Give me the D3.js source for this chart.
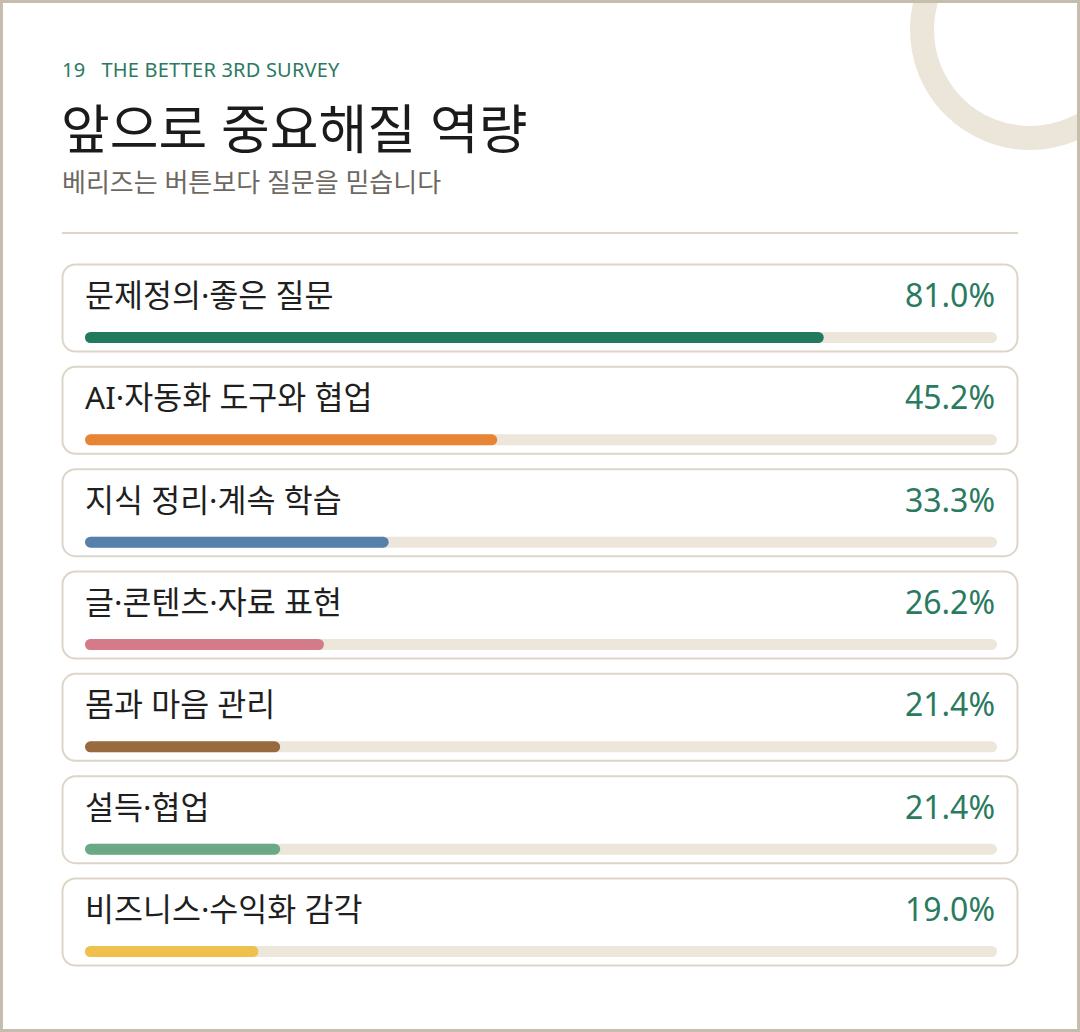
<!DOCTYPE html>
<html>
<head>
<meta charset="utf-8">
<script src="https://cdn.jsdelivr.net/npm/d3@7"></script>
<style>
  html, body { margin: 0; padding: 0; background: #fff; }
  svg { display: block; }
  text { font-family: "Noto Sans", "Noto Sans CJK KR", sans-serif; }
</style>
</head>
<body>
<script>
// survey results
const categories = [
  "문제정의·좋은 질문",
  "AI·자동화 도구와 협업",
  "지식 정리·계속 학습",
  "글·콘텐츠·자료 표현",
  "몸과 마음 관리",
  "설득·협업",
  "비즈니스·수익화 감각"
];
const values = [81.0, 45.2, 33.3, 26.2, 21.4, 21.4, 19.0];
const barColors = ["#217a5e", "#e88534", "#5580ab", "#d57a88", "#986a3e", "#6aa886", "#f0c04c"];

const kicker = "19   THE BETTER 3RD SURVEY";
const title = "앞으로 중요해질 역량";
const subtitle = "베리즈는 버튼보다 질문을 믿습니다";

const drawViz = () => {
  const width = 1080;
  const height = 1032;
  const margin = {left: 62, right: 62};

  d3.select('body').selectAll('svg').remove();

  const svg = d3.select('body')
    .append('svg')
    .attr('width', width)
    .attr('height', height);

  // deco ring, clipped by frame
  svg.append('defs').append('clipPath').attr('id', 'frame')
    .append('rect').attr('x', 0).attr('y', 0).attr('width', width).attr('height', height);

  svg.append('circle')
    .attr('clip-path', 'url(#frame)')
    .attr('cx', 1030).attr('cy', 30).attr('r', 108)
    .attr('fill', 'none')
    .attr('stroke', '#ece5d9')
    .attr('stroke-width', 24);

  // outer frame
  svg.append('rect')
    .attr('x', 1.5).attr('y', 1.5)
    .attr('width', width - 3).attr('height', height - 3)
    .attr('fill', 'none')
    .attr('stroke', '#c7bdac')
    .attr('stroke-width', 3);

  // header
  svg.append('text')
    .attr('x', margin.left).attr('y', 77)
    .attr('fill', '#2a7a5f')
    .style('font-size', '20px')
    .style('letter-spacing', '0.2px')
    .style('white-space', 'pre')
    .attr('xml:space', 'preserve')
    .text(kicker);

  svg.append('text')
    .attr('x', margin.left - 1).attr('y', 149)
    .attr('fill', '#1b1b1b')
    .style('font-size', '53px')
    .style('font-weight', 400)
    .text(title);

  svg.append('text')
    .attr('x', margin.left).attr('y', 192)
    .attr('fill', '#6e6862')
    .style('font-size', '26px')
    .text(subtitle);

  svg.append('line')
    .attr('x1', margin.left).attr('x2', width - margin.right)
    .attr('y1', 233).attr('y2', 233)
    .attr('stroke', '#ddd5c8')
    .attr('stroke-width', 2);

  // rows
  const rowY = d3.scaleBand()
    .domain(categories)
    .range([264, 966])
    .paddingInner(0.14)
    .paddingOuter(0);

  const cardX = margin.left;
  const cardW = width - margin.left - margin.right;
  const trackX0 = 85, trackX1 = 997;

  const x = d3.scaleLinear().domain([0, 100]).range([trackX0, trackX1]);

  const rows = svg.selectAll('.row')
    .data(categories.map((c, i) => ({name: c, value: values[i], color: barColors[i]})))
    .enter().append('g')
    .attr('class', 'row')
    .attr('transform', d => `translate(0, ${rowY(d.name)})`);

  rows.append('rect')
    .attr('x', cardX + 0.5).attr('y', 0.5)
    .attr('width', cardW - 1).attr('height', rowY.bandwidth() - 1)
    .attr('rx', 13)
    .attr('fill', '#fff')
    .attr('stroke', '#ddd6c8')
    .attr('stroke-width', 2);

  rows.append('text')
    .attr('x', trackX0).attr('y', 43)
    .attr('fill', '#1f1f1f')
    .style('font-size', '31.5px')
    .text(d => d.name);

  rows.append('text')
    .attr('x', 995).attr('y', 43)
    .attr('text-anchor', 'end')
    .attr('fill', '#2a7a5f')
    .style('font-size', '32px')
    .text(d => d.value.toFixed(1) + '%');

  rows.append('rect')
    .attr('x', trackX0).attr('y', 68)
    .attr('width', x(100) - trackX0).attr('height', 11)
    .attr('rx', 5.5)
    .attr('fill', '#ede6da');

  rows.append('rect')
    .attr('x', trackX0).attr('y', 68)
    .attr('width', d => x(d.value) - trackX0).attr('height', 11)
    .attr('rx', 5.5)
    .attr('fill', d => d.color);
}

drawViz();
</script>
</body>
</html>
